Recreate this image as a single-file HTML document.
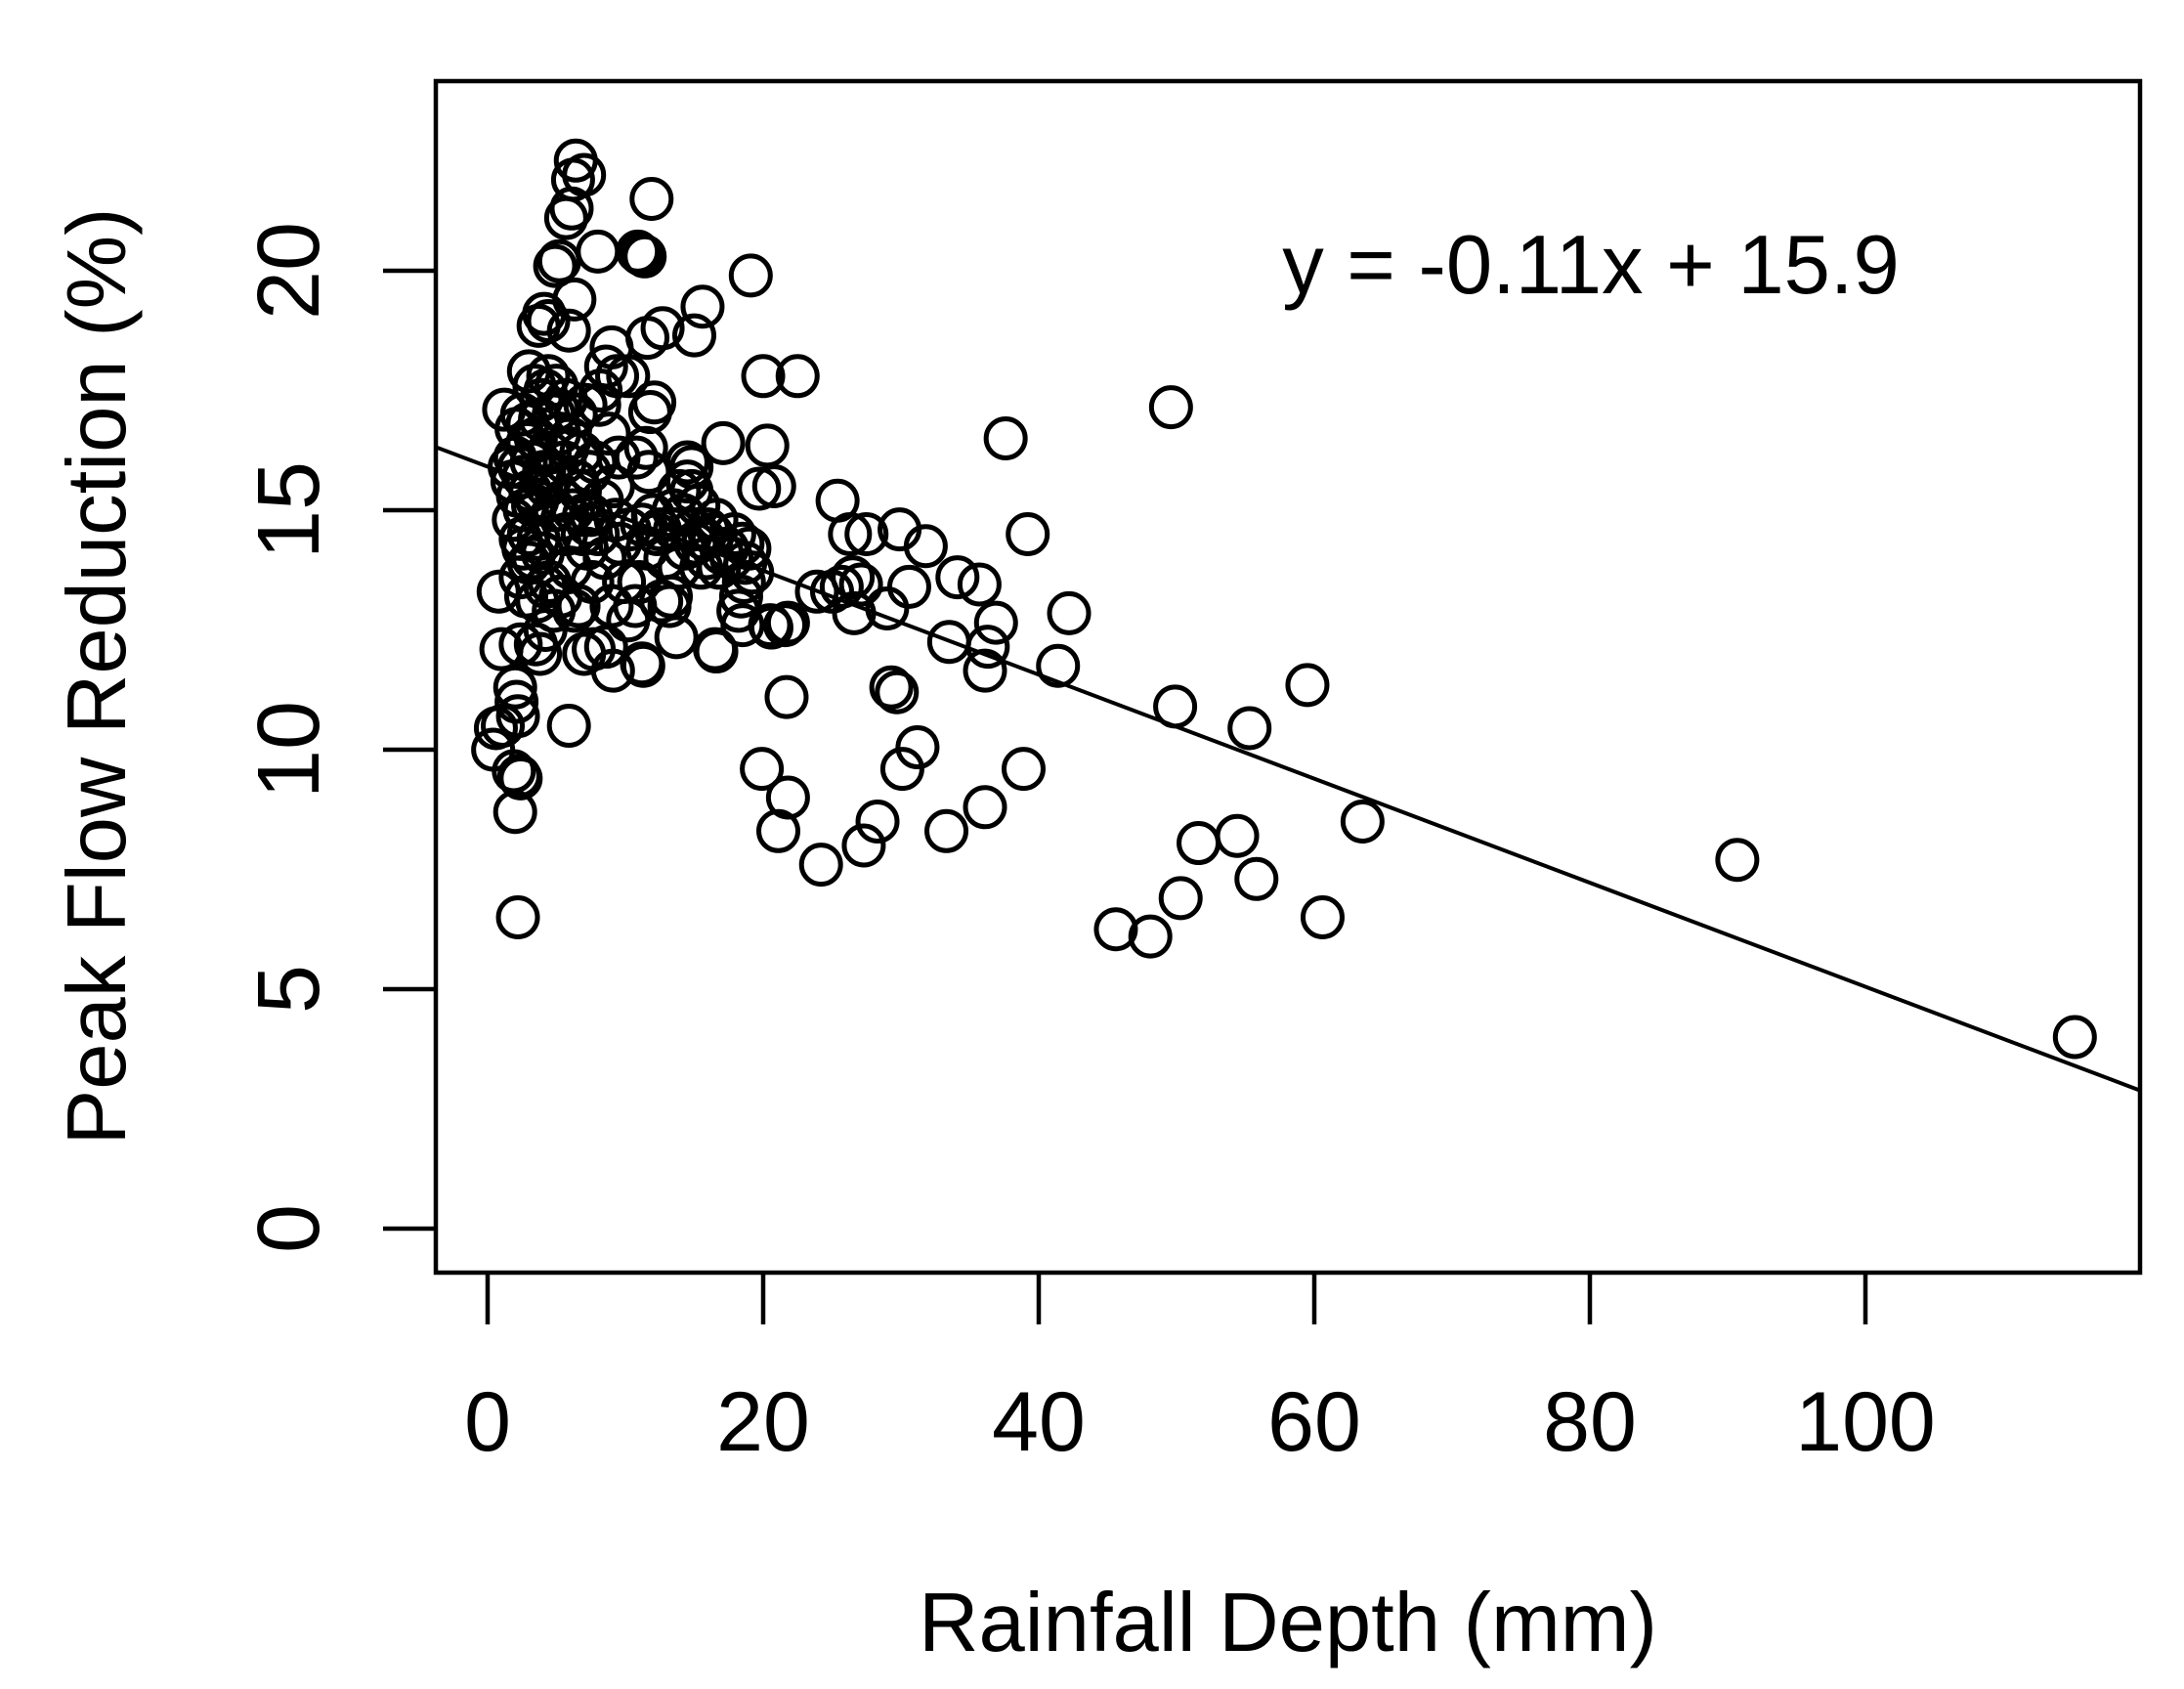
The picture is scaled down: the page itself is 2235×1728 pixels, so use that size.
<!DOCTYPE html>
<html><head><meta charset="utf-8"><title>Peak Flow Reduction vs Rainfall Depth</title>
<style>html,body{margin:0;padding:0;background:#fff}svg{display:block}</style></head>
<body>
<svg id="chart" width="2235" height="1728" viewBox="0 0 2235 1728" xmlns="http://www.w3.org/2000/svg" font-family="'Liberation Sans', Arial, sans-serif">
<rect x="0" y="0" width="2235" height="1728" fill="#fff"/>
<g id="points"></g>
<g id="axes"></g>
<rect x="446" y="83" width="1744" height="1219" fill="none" stroke="#000" stroke-width="4.5"/>
<text x="1628" y="300" font-size="85" text-anchor="middle">y = -0.11x + 15.9</text>
<text x="1318" y="1689" font-size="85" text-anchor="middle">Rainfall Depth (mm)</text>
<text transform="translate(128,692) rotate(-90)" font-size="85" text-anchor="middle">Peak Flow Reduction (%)</text>
</svg>
<script>
const xTicks = [0, 20, 40, 60, 80, 100];
const yTicks = [0, 5, 10, 15, 20];
const fitSlope = -0.1086;
const fitIntercept = 15.91;
const fitRange = [-3.8, 119.9];
const rainfall = [115.2,90.7,63.5,60.6,59.5,55.3,55.8,54.4,51.6,50.3,49.9,49.6,48.1,45.6,42.2,41.4,39.2,38.9,37.6,36.9,36.3,36.1,36.1,35.7,34.1,33.5,33.3,31.8,31.2,30.6,29.9,30.1,29.3,29.7,28.3,29.0,27.3,27.5,26.3,26.6,27.1,26.5,25.4,25.0,25.7,24.2,23.9,22.5,21.7,21.8,21.1,21.8,20.6,19.9,20.8,20.3,20.0,19.7,19.1,17.1,16.6,15.6,15.0,14.8,11.9,11.1,11.4,10.9,12.7,11.6,12.1,11.8,11.3,13.7,13.2,6.4,7.0,6.2,6.1,5.7,8.0,5.2,4.9,6.3,4.1,4.4,3.7,5.9,9.0,8.6,9.4,8.2,8.1,10.2,3.0,3.4,4.2,1.2,5.9,0.4,0.6,1.1,0.8,1.0,2.4,3.8,2.0,2.1,2.2,1.9,2.3,2.4,2.0,2.2,9.1,8.6,7.7,7.0,11.2,16.5,18.5,18.7,18.6,18.4,18.2,18.5,19.0,19.2,17.7,17.9,16.6,16.3,15.9,15.5,15.1,14.8,14.5,14.3,13.9,13.6,13.9,14.5,13.3,12.9,12.5,12.0,11.6,11.2,11.0,10.7,10.2,9.9,9.6,9.3,9.1,9.0,8.5,8.0,7.6,7.2,7.0,6.6,6.3,6.0,5.7,5.5,5.3,4.8,4.5,4.0,3.7,3.3,3.0,2.6,2.4,2.8,3.5,4.2,10.8,11.5,11.7,10.3,12.3,13.5,16.0,15.3,14.9,17.0,16.8,7.8,7.4,6.8,6.5,6.0,5.6,5.2,4.8,4.5,4.1,3.8,3.5,3.2,2.9,2.6,2.3,2.0,1.8,2.2,2.7,3.1,3.6,4.3,4.9,5.4,6.2,6.9,7.5,8.3,8.8,9.5,5.0,4.4,5.7,6.4,7.1,3.9,2.5,2.1,21.6,20.5,12.6,14.2,15.7,17.4,1.6,1.9,2.9,3.3,4.6,5.1,5.8,6.7,7.3,2.4,3.0,3.6,4.2];
const reduction = [4.0,7.7,8.5,6.5,11.35,10.45,7.3,8.2,8.05,6.9,10.9,17.15,6.1,6.25,12.85,11.75,14.5,9.6,16.5,12.65,12.15,11.65,8.8,13.45,13.6,12.25,8.3,14.25,10.05,13.4,14.6,9.6,11.3,11.2,8.5,12.95,8.0,14.5,14.5,12.85,13.45,13.6,15.2,13.3,13.4,7.6,13.3,17.8,11.1,9.0,8.3,12.65,12.55,9.6,15.5,16.35,17.8,15.45,19.9,16.4,12.05,19.25,18.65,15.9,21.5,20.35,20.3,20.4,18.8,18.6,17.25,17.05,11.75,12.35,13.0,22.3,22.0,21.9,21.3,21.1,20.4,20.2,20.1,19.4,19.1,18.95,18.85,18.75,18.4,18.0,17.8,17.5,17.2,17.8,17.9,17.6,17.5,17.1,10.5,10.0,10.45,10.5,13.3,12.1,12.2,12.0,11.3,11.0,10.7,9.55,9.45,9.4,8.7,6.5,11.65,12.15,12.1,12.0,11.8,12.1,14.3,13.9,13.5,13.2,12.9,12.6,14.2,13.7,14.0,14.5,14.8,14.5,14.0,13.8,14.3,15.4,15.6,14.2,13.8,14.6,15.4,16.0,13.2,14.0,14.6,14.9,14.2,14.7,13.5,13.0,12.7,13.5,14.3,14.8,15.5,13.0,14.0,14.5,13.5,14.2,14.9,13.0,12.9,13.8,14.5,15.2,13.2,12.9,13.5,14.1,14.4,14.0,14.5,14.2,14.4,13.2,12.2,12.5,16.1,16.3,15.8,14.6,14.5,15.0,14.6,15.1,14.6,14.1,13.8,16.0,15.8,16.2,15.6,16.5,16.0,16.6,17.0,16.2,15.8,16.9,16.5,16.0,16.8,15.7,15.9,16.1,15.6,15.3,15.0,15.4,15.2,15.5,15.0,14.8,15.0,14.5,14.9,15.2,16.6,16.1,17.6,17.8,17.3,17.0,17.2,17.3,17.0,16.7,12.6,12.6,13.1,14.9,14.4,14.2,15.9,14.8,16.4,15.1,15.7,17.1,16.3,15.4,14.7,13.6,13.9,13.1,13.4];

const X0 = 499, XS = 14.1, Y0 = 1257, YS = 49.0;
function sx(v){ return X0 + v * XS; }
function sy(v){ return Y0 - v * YS; }
const NS = 'http://www.w3.org/2000/svg';
const axes = document.getElementById('axes');
const pts = document.getElementById('points');

xTicks.forEach(function(t){
  const l = document.createElementNS(NS, 'line');
  l.setAttribute('x1', sx(t)); l.setAttribute('x2', sx(t));
  l.setAttribute('y1', 1302); l.setAttribute('y2', 1355);
  l.setAttribute('stroke', '#000'); l.setAttribute('stroke-width', '4.5');
  
  
  axes.appendChild(l);
  const tx = document.createElementNS(NS, 'text');
  tx.setAttribute('x', sx(t)); tx.setAttribute('y', 1484);
  tx.setAttribute('font-size', '86'); tx.setAttribute('text-anchor', 'middle');
  tx.textContent = t;
  
  
  axes.appendChild(tx);
});
yTicks.forEach(function(t){
  const l = document.createElementNS(NS, 'line');
  l.setAttribute('x1', 392); l.setAttribute('x2', 446);
  l.setAttribute('y1', sy(t)); l.setAttribute('y2', sy(t));
  l.setAttribute('stroke', '#000'); l.setAttribute('stroke-width', '4.5');
  
  
  axes.appendChild(l);
  const tx = document.createElementNS(NS, 'text');
  tx.setAttribute('transform', 'translate(326,' + sy(t) + ') rotate(-90)');
  tx.setAttribute('font-size', '90'); tx.setAttribute('text-anchor', 'middle');
  tx.textContent = t;
  
  
  axes.appendChild(tx);
});

for (let i = 0; i < rainfall.length; i++) {
  const c = document.createElementNS(NS, 'circle');
  c.setAttribute('cx', sx(rainfall[i]));
  c.setAttribute('cy', sy(reduction[i]));
  c.setAttribute('r', 20);
  c.setAttribute('fill', 'none');
  c.setAttribute('stroke', '#000');
  c.setAttribute('stroke-width', '5');
  
  
  pts.appendChild(c);
}

const fit = document.createElementNS(NS, 'line');
fit.setAttribute('x1', sx(fitRange[0]));
fit.setAttribute('y1', sy(fitIntercept + fitSlope * fitRange[0]));
fit.setAttribute('x2', sx(fitRange[1]));
fit.setAttribute('y2', sy(fitIntercept + fitSlope * fitRange[1]));
fit.setAttribute('stroke', '#000');
fit.setAttribute('stroke-width', '4');


pts.appendChild(fit);
</script>
</body></html>
